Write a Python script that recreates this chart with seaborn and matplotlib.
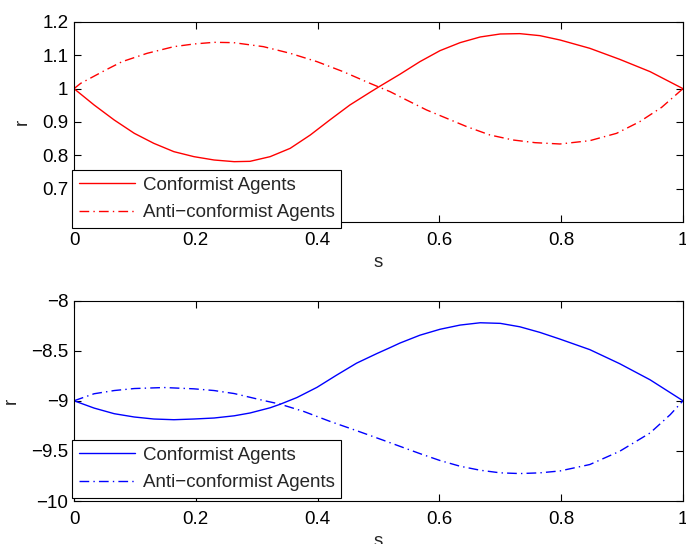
import numpy as np
import pandas as pd
import seaborn as sns
import matplotlib.pyplot as plt

# values
s_top = [0.0, 0.033, 0.066, 0.099, 0.131, 0.164, 0.197, 0.230, 0.263, 0.289, 0.322,
         0.355, 0.388, 0.420, 0.453, 0.486, 0.502, 0.535, 0.568, 0.601, 0.634, 0.667,
         0.700, 0.732, 0.765, 0.798, 0.847, 0.896, 0.946, 1.0]
conf_top = [1.0, 0.951, 0.906, 0.866, 0.836, 0.811, 0.796, 0.786, 0.781, 0.782, 0.796,
            0.821, 0.861, 0.906, 0.951, 0.989, 1.007, 1.043, 1.081, 1.114, 1.138, 1.155,
            1.164, 1.165, 1.159, 1.146, 1.121, 1.088, 1.051, 1.0]
s_top_anti = [0.0, 0.011, 0.052, 0.079, 0.120, 0.164, 0.197, 0.230, 0.262, 0.311, 0.355,
              0.399, 0.442, 0.486, 0.519, 0.546, 0.579, 0.612, 0.645, 0.683, 0.721, 0.757,
              0.798, 0.847, 0.891, 0.929, 0.965, 1.0]
anti_top = [1.0, 1.016, 1.056, 1.081, 1.106, 1.126, 1.134, 1.139, 1.138, 1.126, 1.106,
            1.081, 1.051, 1.016, 0.991, 0.966, 0.936, 0.911, 0.886, 0.861, 0.846, 0.838,
            0.834, 0.844, 0.866, 0.901, 0.944, 1.0]

s_bot = [0.0, 0.033, 0.066, 0.099, 0.131, 0.164, 0.197, 0.230, 0.263, 0.289, 0.322,
         0.338, 0.366, 0.399, 0.431, 0.464, 0.497, 0.519, 0.535, 0.568, 0.601, 0.634,
         0.667, 0.700, 0.732, 0.765, 0.798, 0.847, 0.896, 0.946, 1.0]
conf_bot = [-9.0, -9.073, -9.129, -9.162, -9.182, -9.189, -9.182, -9.172, -9.150, -9.122, -9.070,
            -9.036, -8.968, -8.866, -8.745, -8.625, -8.530, -8.470, -8.425, -8.346, -8.287, -8.245,
            -8.222, -8.228, -8.262, -8.318, -8.385, -8.490, -8.630, -8.791, -9.0]
s_bot_anti = [0.0, 0.033, 0.066, 0.099, 0.148, 0.197, 0.230, 0.263, 0.311, 0.338, 0.377,
              0.420, 0.464, 0.508, 0.535, 0.568, 0.601, 0.634, 0.667, 0.700, 0.732, 0.765,
              0.798, 0.847, 0.896, 0.946, 0.979, 1.0]
anti_bot = [-9.0, -8.930, -8.898, -8.878, -8.868, -8.881, -8.898, -8.928, -8.997, -9.033, -9.106,
            -9.205, -9.298, -9.394, -9.454, -9.527, -9.596, -9.653, -9.693, -9.719, -9.726, -9.719,
            -9.700, -9.636, -9.504, -9.321, -9.139, -9.0]

series_names = ['Conformist Agents', 'Anti\u2212conformist Agents']
x_ticks = [0, 0.2, 0.4, 0.6, 0.8, 1]
x_labels = ['0', '0.2', '0.4', '0.6', '0.8', '1']
y_ticks_top = [0.7, 0.8, 0.9, 1.0, 1.1, 1.2]
y_labels_top = ['0.7', '0.8', '0.9', '1', '1.1', '1.2']
y_ticks_bot = [-10, -9.5, -9, -8.5, -8]
y_labels_bot = ['\u221210', '\u22129.5', '\u22129', '\u22128.5', '\u22128']

sns.set_style('ticks')
plt.rcParams['font.family'] = ['Liberation Sans', 'DejaVu Sans']
plt.rcParams['font.size'] = 13.5

fig = plt.figure(figsize=(6.86, 5.44), dpi=100)
ax1 = fig.add_axes([0.1079, 0.5919, 0.8877, 0.3677])
ax2 = fig.add_axes([0.1079, 0.0790, 0.8877, 0.3686])

dashdot = (0, (7, 3, 1, 3))


def draw(ax, s1, y1, s2, y2, color, yticks, ylabels, ylim, leg_y):
    df1 = pd.DataFrame({'s': s1, 'r': y1})
    df2 = pd.DataFrame({'s': s2, 'r': y2})
    sns.lineplot(data=df1, x='s', y='r', ax=ax, color=color, lw=1.0,
                 label=series_names[0])
    sns.lineplot(data=df2, x='s', y='r', ax=ax, color=color, lw=1.0,
                 linestyle=dashdot, label=series_names[1])
    ax.set_xlim(0, 1)
    ax.set_ylim(*ylim)
    ax.set_xticks(x_ticks)
    ax.set_xticklabels(x_labels)
    ax.set_yticks(yticks)
    ax.set_yticklabels(ylabels)
    ax.set_xlabel('s', labelpad=4)
    ax.set_ylabel('r', labelpad=8)
    ax.tick_params(axis='x', pad=7)
    ax.tick_params(axis='y', pad=4)
    ax.tick_params(direction='in', length=5, width=0.8, top=True, right=True,
                   labelsize=13.5, colors='black')
    for sp in ax.spines.values():
        sp.set_visible(True)
        sp.set_linewidth(0.8)
        sp.set_color('black')
    leg = ax.legend(loc='lower left', bbox_to_anchor=(-0.003, leg_y),
                    borderaxespad=0, frameon=True, fancybox=False, shadow=False,
                    handlelength=3.0, handletextpad=0.4, borderpad=0.35,
                    labelspacing=0.55, fontsize=13.5)
    leg.get_frame().set_edgecolor('black')
    leg.get_frame().set_linewidth(0.8)
    leg.get_frame().set_alpha(1)


draw(ax1, s_top, conf_top, s_top_anti, anti_top, 'red',
     y_ticks_top, y_labels_top, (0.6, 1.2), -0.03)
draw(ax2, s_bot, conf_bot, s_bot_anti, anti_bot, 'blue',
     y_ticks_bot, y_labels_bot, (-10, -8), 0.015)

fig.savefig('out.png', dpi=100)
